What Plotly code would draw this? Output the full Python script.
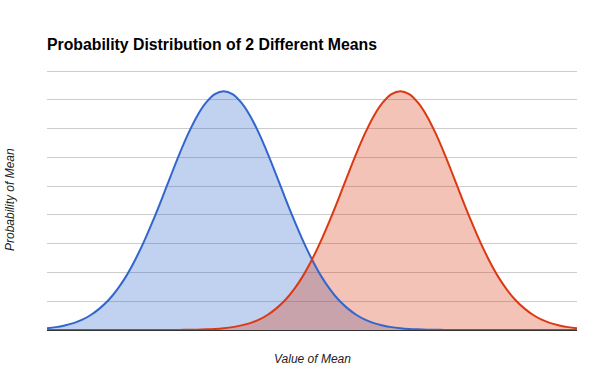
import plotly.graph_objects as go

x_values = [i * 0.5 for i in range(61)]

blue_values = [0.063, 0.10, 0.16, 0.24, 0.36, 0.53, 0.76, 1.05, 1.43, 1.89,
               2.45, 3.09, 3.80, 4.56, 5.35, 6.12, 6.83, 7.44, 7.90, 8.20,
               8.30, 8.20, 7.90, 7.44, 6.83, 6.12, 5.35, 4.56, 3.80, 3.09,
               2.45, 1.89, 1.43, 1.05, 0.76, 0.53, 0.36, 0.24, 0.16, 0.10,
               0.063, 0.038, 0.023, 0.013, 0.007, 0.004, 0.002, 0.001, 0, 0,
               0, 0, 0, 0, 0, 0, 0, 0, 0, 0, 0]

red_values = [0, 0, 0, 0, 0, 0, 0, 0, 0, 0, 0, 0, 0, 0.001, 0.002, 0.004,
              0.007, 0.013, 0.023, 0.038, 0.063, 0.10, 0.16, 0.24, 0.36, 0.53,
              0.76, 1.05, 1.43, 1.89, 2.45, 3.09, 3.80, 4.56, 5.35, 6.12,
              6.83, 7.44, 7.90, 8.20, 8.30, 8.20, 7.90, 7.44, 6.83, 6.12,
              5.35, 4.56, 3.80, 3.09, 2.45, 1.89, 1.43, 1.05, 0.76, 0.53,
              0.36, 0.24, 0.16, 0.10, 0.063]

y_gridlines = [0, 1, 2, 3, 4, 5, 6, 7, 8, 9]

title_text = "Probability Distribution of 2 Different Means"
x_title = "Value of Mean"
y_title = "Probability of Mean"

series = [(blue_values, "#3366cc", "rgba(51,102,204,0.3)"),
          (red_values, "#dc3912", "rgba(220,57,18,0.3)")]

fig = go.Figure()
# areas first
for vals, col, fcol in series:
    fig.add_trace(go.Scatter(x=x_values, y=vals, mode="lines",
                             line=dict(color="rgba(0,0,0,0)", width=0, shape="spline"),
                             fill="tozeroy", fillcolor=fcol,
                             hoverinfo="skip", showlegend=False))
# lines on top
for vals, col, fcol in series:
    fig.add_trace(go.Scatter(x=x_values, y=vals, mode="lines",
                             line=dict(color=col, width=2, shape="spline"),
                             hoverinfo="skip", showlegend=False))

fig.update_layout(
    width=600, height=371,
    margin=dict(l=47, r=23, t=70, b=41),
    paper_bgcolor="white", plot_bgcolor="white",
    font=dict(family="Liberation Sans, Arial, sans-serif", color="#222222"),
    title=dict(text="<b>" + title_text + "</b>", x=47/600, xanchor="left",
               xref="container", y=1 - 44/371, yanchor="middle",
               font=dict(size=15.8, color="#000000")),
    xaxis=dict(range=[0, 30], showgrid=False, zeroline=False,
               showticklabels=False, ticks="", showline=True,
               linecolor="#333333", linewidth=1),
    yaxis=dict(range=[0, 9.035], tickmode="array", tickvals=y_gridlines,
               showgrid=True, gridcolor="#cccccc",
               gridwidth=1, zeroline=False, showticklabels=False, ticks="",
               showline=False),
    annotations=[
        dict(text="<i>" + x_title + "</i>", xref="paper", yref="paper",
             x=0.5, y=0, yshift=-29, showarrow=False,
             font=dict(size=12, color="#222222"), xanchor="center",
             yanchor="middle"),
        dict(text="<i>" + y_title + "</i>", xref="paper", yref="paper",
             x=0, y=0.5, xshift=-37, showarrow=False, textangle=-90,
             font=dict(size=12, color="#222222"), xanchor="center",
             yanchor="middle"),
    ],
)

fig.write_html("out.html", config={"displayModeBar": False},
               post_script="document.body.style.margin='0';document.body.style.padding='0';")
